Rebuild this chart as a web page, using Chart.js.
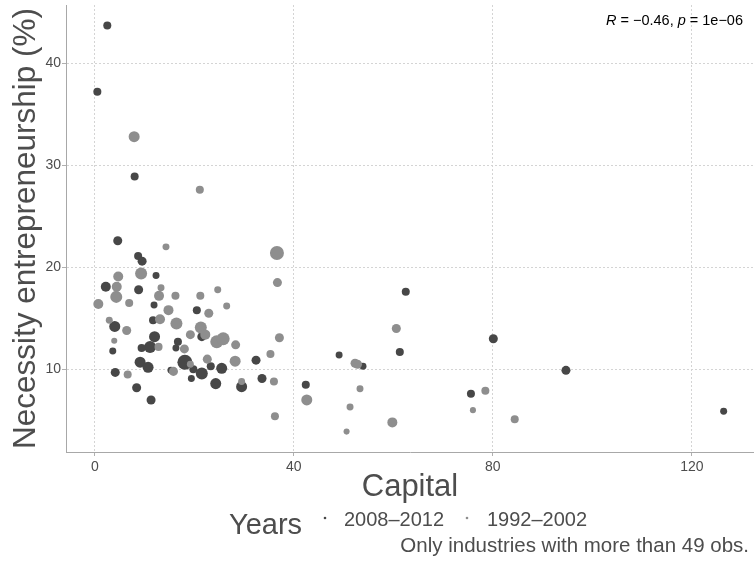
<!DOCTYPE html>
<html>
<head>
<meta charset="utf-8">
<script src="https://cdn.jsdelivr.net/npm/chart.js@4"></script>
<style>
  html, body { margin: 0; padding: 0; background: #fff; }
  canvas { display: block; }
</style>
</head>
<body>
<canvas id="plot" width="754" height="562"></canvas>
<script>
// 2008–2012 (dark points)
const capitalRecent = [2.5, 0.5, 8.0, 4.6, 8.7, 9.5, 12.3, 2.2, 8.8, 11.9, 20.5, 11.7, 4.0, 12.0, 21.5, 16.7, 16.3, 11.1, 9.4, 3.6, 9.1, 10.7, 18.1, 19.8, 19.4, 21.5, 23.3, 25.5, 32.4, 24.3, 29.5, 33.6, 4.1, 8.4, 11.3, 15.3, 42.4, 62.5, 61.3, 80.1, 49.1, 53.9, 75.6, 94.7, 126.4];
const necessityRecent = [43.7, 37.2, 28.9, 22.6, 21.1, 20.6, 19.2, 18.1, 17.8, 16.3, 15.8, 14.8, 14.2, 13.2, 13.2, 12.7, 12.1, 12.2, 12.1, 11.8, 10.7, 10.2, 10.7, 10.0, 9.1, 9.6, 10.3, 10.1, 10.9, 8.6, 8.3, 9.1, 9.7, 8.2, 7.0, 9.9, 8.5, 17.6, 11.7, 13.0, 11.4, 10.3, 7.6, 9.9, 5.9];
const obsRecent = [87, 87, 87, 110, 87, 110, 66, 135, 110, 66, 87, 87, 164, 164, 110, 87, 66, 195, 87, 66, 164, 164, 304, 87, 66, 195, 87, 164, 110, 164, 164, 110, 110, 110, 110, 66, 87, 87, 87, 110, 66, 66, 87, 110, 66];

// 1992–2002 (light points)
const capitalEarly = [7.9, 21.1, 14.3, 36.6, 9.3, 4.7, 4.4, 4.3, 13.3, 12.9, 16.2, 24.7, 36.7, 21.2, 0.7, 6.9, 26.5, 14.8, 22.9, 13.1, 2.9, 16.4, 6.4, 21.3, 22.2, 19.2, 24.5, 25.8, 28.3, 37.1, 3.9, 12.8, 18.0, 19.2, 22.6, 28.2, 35.3, 6.6, 15.8, 29.5, 36.0, 36.2, 42.6, 60.6, 52.3, 52.8, 53.3, 51.3, 50.6, 59.8, 78.5, 76.0, 84.4];
const necessityEarly = [32.8, 27.6, 22.0, 21.4, 19.4, 19.1, 18.1, 17.1, 18.0, 17.2, 17.2, 17.8, 18.5, 17.2, 16.4, 16.5, 16.2, 15.8, 15.5, 14.9, 14.8, 14.5, 13.8, 14.1, 13.4, 13.4, 12.7, 13.0, 12.4, 13.1, 12.8, 12.2, 12.0, 10.5, 11.0, 10.8, 11.5, 9.5, 9.8, 8.8, 8.8, 5.4, 7.0, 14.0, 10.6, 10.5, 8.1, 6.3, 3.9, 4.8, 7.9, 6.0, 5.1];
const obsEarly = [164, 87, 66, 265, 195, 135, 135, 195, 66, 135, 87, 66, 110, 87, 135, 87, 66, 135, 110, 135, 66, 195, 110, 195, 135, 110, 228, 228, 110, 110, 50, 87, 110, 66, 110, 164, 87, 87, 110, 66, 87, 87, 164, 110, 110, 110, 66, 66, 50, 135, 87, 50, 87];

const xTicks = [0, 40, 80, 120];
const yTicks = [10, 20, 30, 40];
const seriesNames = ["2008–2012", "1992–2002"];
const corrR = "−0.46";
const corrP = "1e−06";

const darkGrey = "#474747";
const lightGrey = "#8e8e8e";
const textColor = "#4d4d4d";
const family = "'Liberation Sans', Arial, sans-serif";

function toPoints(xs, ys) {
  return xs.map((x, i) => ({ x: x, y: ys[i] }));
}

function toRadius(obs) {
  return obs.map((n) => 0.43 * Math.sqrt(n));
}

function noPadding(scale) {
  scale.paddingTop = 0;
  scale.paddingBottom = 0;
  scale.paddingLeft = 0;
  scale.paddingRight = 0;
}

// titles, legend, caption and the correlation label
const extras = {
  id: "extras",
  afterDraw(chart) {
    const ctx = chart.ctx;
    const area = chart.chartArea;
    ctx.save();
    ctx.fillStyle = textColor;
    ctx.textBaseline = "alphabetic";

    ctx.save();
    ctx.translate(35, (area.top + area.bottom) / 2);
    ctx.rotate(-Math.PI / 2);
    ctx.textAlign = "center";
    ctx.font = "31.5px " + family;
    ctx.fillText("Necessity entrepreneurship (%)", 0, 0);
    ctx.restore();

    ctx.textAlign = "center";
    ctx.font = "31px " + family;
    ctx.fillText("Capital", (area.left + area.right) / 2, 496);

    ctx.textAlign = "left";
    ctx.font = "29px " + family;
    ctx.fillText("Years", 229, 534);

    ctx.font = "20px " + family;
    ctx.fillStyle = darkGrey;
    ctx.beginPath();
    ctx.arc(325, 518, 1.3, 0, Math.PI * 2);
    ctx.fill();
    ctx.fillStyle = lightGrey;
    ctx.beginPath();
    ctx.arc(467, 518, 1.3, 0, Math.PI * 2);
    ctx.fill();
    ctx.fillStyle = textColor;
    ctx.fillText(seriesNames[0], 344, 526);
    ctx.fillText(seriesNames[1], 487, 526);

    ctx.textAlign = "right";
    ctx.font = "20.5px " + family;
    ctx.fillText("Only industries with more than 49 obs.", 749, 552);

    // R = -0.46, p = 1e-06
    const parts = [
      { t: "R", it: true },
      { t: " = " + corrR + ", " },
      { t: "p", it: true },
      { t: " = " + corrP }
    ];
    ctx.fillStyle = "#000";
    ctx.textAlign = "left";
    let total = 0;
    parts.forEach((p) => {
      ctx.font = (p.it ? "italic " : "") + "14.5px " + family;
      p.w = ctx.measureText(p.t).width;
      total += p.w;
    });
    let x = 743 - total;
    parts.forEach((p) => {
      ctx.font = (p.it ? "italic " : "") + "14.5px " + family;
      ctx.fillText(p.t, x, 25);
      x += p.w;
    });
    ctx.restore();
  }
};

const plot = new Chart(document.getElementById("plot"), {
  type: "scatter",
  data: {
    datasets: [
      {
        label: seriesNames[0],
        data: toPoints(capitalRecent, necessityRecent),
        pointRadius: toRadius(obsRecent),
        backgroundColor: darkGrey,
        borderWidth: 0,
        order: 2
      },
      {
        label: seriesNames[1],
        data: toPoints(capitalEarly, necessityEarly),
        pointRadius: toRadius(obsEarly),
        backgroundColor: lightGrey,
        borderWidth: 0,
        order: 1
      }
    ]
  },
  options: {
    responsive: false,
    animation: false,
    events: [],
    layout: { autoPadding: false, padding: { top: 5, right: 0, bottom: 0, left: 0 } },
    scales: {
      x: {
        type: "linear",
        min: -5.8,
        max: 132.5,
        afterBuildTicks: (scale) => {
          scale.ticks = xTicks.map((v) => ({ value: v }));
        },
        afterFit: (scale) => {
          scale.height = 110;
          noPadding(scale);
        },
        grid: { color: "#d4d4d4", tickLength: 4, tickColor: "#b0b0b0" },
        border: { display: true, color: "#a8a8a8", width: 1, dash: [2, 2] },
        ticks: {
          color: textColor,
          padding: 3,
          maxRotation: 0,
          font: { family: family, size: 14 }
        }
      },
      y: {
        type: "linear",
        min: 1.9,
        max: 45.7,
        afterBuildTicks: (scale) => {
          scale.ticks = yTicks.map((v) => ({ value: v }));
        },
        afterFit: (scale) => {
          scale.width = 66;
          noPadding(scale);
        },
        grid: { color: "#d4d4d4", tickLength: 4, tickColor: "#b0b0b0" },
        border: { display: true, color: "#a8a8a8", width: 1, dash: [2, 2] },
        ticks: {
          color: textColor,
          padding: 1,
          font: { family: family, size: 14 }
        }
      }
    },
    plugins: {
      legend: { display: false },
      tooltip: { enabled: false },
      title: { display: false }
    }
  },
  plugins: [extras]
});
</script>
</body>
</html>
